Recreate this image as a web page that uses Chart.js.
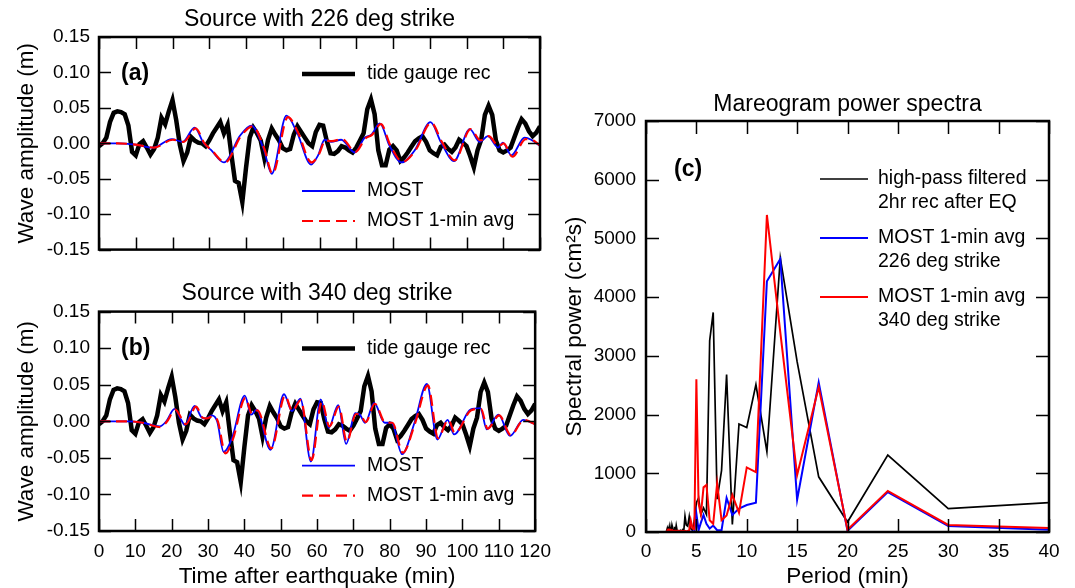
<!DOCTYPE html>
<html>
<head>
<meta charset="utf-8">
<script src="https://cdn.jsdelivr.net/npm/chart.js@4.4.1/dist/chart.umd.min.js"></script>
<style>
  html, body { margin: 0; padding: 0; background: #fff; }
  body { width: 1075px; height: 588px; position: relative; overflow: hidden; }
  canvas { position: absolute; }
</style>
</head>
<body>
<canvas id="panelA" width="560" height="270" style="left:0;top:0"></canvas>
<canvas id="panelB" width="560" height="318" style="left:0;top:270px"></canvas>
<canvas id="panelC" width="515" height="588" style="left:560px;top:0"></canvas>
<script>
// ---- Tide gauge record (m), 1-min samples after the earthquake ----
const tideMinutes = [0,1,2,3,4,5,6,7,8,9,10,11,12,13,14,15,16,17,18,19,20,21,22,23,24,25,26,27,28,29,30,
  31,32,33,34,35,36,37,38,39,40,41,42,43,44,45,46,47,48,49,50,51,52,53,54,55,56,57,58,59,60,
  61,62,63,64,65,66,67,68,69,70,71,72,73,74,75,76,77,78,79,80,81,82,83,84,85,86,87,88,89,90,
  91,92,93,94,95,96,97,98,99,100,101,102,103,104,105,106,107,108,109,110,111,112,113,114,115,116,117,118,119,120];
const tideGauge = [-0.004,0.000,0.008,0.030,0.043,0.045,0.044,0.041,0.025,-0.012,-0.017,-0.001,0.003,-0.006,-0.016,-0.008,0.008,0.036,0.027,0.045,0.061,
  0.033,-0.002,-0.025,-0.013,0.009,0.004,0.001,0.000,-0.004,0.004,0.014,0.022,0.030,0.014,0.026,-0.015,-0.053,-0.056,-0.083,-0.035,
  0.008,0.022,0.014,0.004,-0.021,0.005,0.021,0.012,0.004,-0.007,-0.010,-0.008,0.012,0.024,0.016,0.008,0.000,-0.004,0.016,0.026,
  0.025,0.003,-0.014,-0.015,-0.011,-0.004,-0.006,-0.010,-0.013,-0.006,0.004,0.014,0.048,0.062,0.041,-0.010,-0.031,-0.031,-0.009,-0.004,
  -0.010,-0.025,-0.020,-0.013,-0.005,0.003,0.007,0.010,0.002,-0.010,-0.014,-0.017,-0.005,-0.002,-0.008,-0.012,-0.006,0.005,0.001,-0.004,
  -0.018,-0.034,-0.010,0.005,0.040,0.053,0.040,0.004,-0.010,-0.013,-0.010,-0.006,0.008,0.022,0.034,0.028,0.017,0.010,0.015,0.024];

// ---- MOST model, 226 deg strike source (m) ----
const most226Min = [0,5,10,14.8,19.8,22.8,26.0,28.5,30.4,34.0,38.4,41.5,44.8,47.0,51.0,53.9,57.7,59.6,61.4,63.2,65.9,69.6,72.3,74.1,76.4,79.1,82.3,85.9,90.2,93.1,96.6,100.9,103.6,105.8,108.6,109.9,112.2,115.8,117.6,120];
const most226 = [0,0,-0.002,-0.006,0.006,0.002,0.022,0.000,-0.009,-0.027,0.011,0.025,-0.008,-0.043,0.039,0.015,-0.030,-0.017,0.005,0.002,0.005,-0.013,0.008,0.012,0.028,-0.004,-0.027,-0.010,0.030,0.001,-0.025,0.020,0.002,0.010,-0.006,0.001,-0.017,0.008,0.005,-0.004];
const most226AvgMin = [0,5,10,15.0,20.1,23.0,26.3,28.7,30.7,34.3,38.6,41.8,45.0,47.2,51.4,54.1,57.8,59.8,61.6,63.4,66.1,69.8,72.5,74.3,76.7,79.3,82.6,86.1,90.4,93.3,96.8,101.1,103.8,106.0,108.8,110.1,112.5,116.1,117.8,120];
const most226Avg = [0,0,-0.002,-0.006,0.005,0.002,0.021,0.000,-0.010,-0.027,0.010,0.024,-0.008,-0.043,0.037,0.016,-0.027,-0.016,0.004,0.003,0.006,-0.012,0.007,0.012,0.027,-0.003,-0.026,-0.010,0.029,0.002,-0.024,0.020,0.004,0.010,-0.004,0.000,-0.019,0.006,0.005,-0.003];

// ---- MOST model, 340 deg strike source (m) ----
const most340Min = [0,8,12,16.7,18.5,20.8,22.6,23.6,26.3,28.3,29.4,31.0,32.5,34.3,36.6,40.1,41.9,43.3,47.2,50.9,53.1,55.4,58.3,61.0,63.2,65.8,68.0,70.5,71.8,73.2,75.7,78.6,80.5,83.4,86.8,90.2,93.1,95.9,97.7,102.2,104.9,106.7,109.9,113.1,116.7,120];
const most340 = [0,0,-0.002,-0.007,0.000,0.017,0.002,-0.005,0.021,0.005,0.004,0.008,0.000,-0.042,-0.023,0.035,0.009,0.016,-0.039,0.037,0.014,0.031,-0.055,0.030,-0.009,0.022,-0.031,0.011,0.009,-0.002,0.025,-0.002,-0.002,-0.045,-0.002,0.051,-0.025,0.002,-0.018,0.016,0.018,-0.011,0.009,-0.020,0.002,-0.004];
const most340AvgMin = [0,8,12,16.9,18.6,21.0,22.8,23.9,26.7,28.5,29.6,31.4,32.7,34.8,36.8,40.3,42.1,43.6,47.4,51.2,53.2,55.5,58.5,61.3,63.4,66.0,68.2,70.7,72.0,73.4,75.9,78.8,80.7,83.6,87.0,90.5,93.3,96.1,97.9,102.4,105.1,106.9,110.1,113.3,116.9,120];
const most340Avg = [0,0,-0.002,-0.008,-0.001,0.016,0.003,-0.004,0.020,0.005,0.004,0.007,0.000,-0.044,-0.025,0.032,0.010,0.015,-0.037,0.035,0.014,0.029,-0.053,0.027,-0.007,0.020,-0.028,0.010,0.008,-0.001,0.024,-0.002,-0.002,-0.043,-0.002,0.049,-0.023,0.002,-0.016,0.015,0.017,-0.010,0.008,-0.019,0.002,-0.004];

// ---- Power spectra (cm^2 s) against period (min) ----
const periodMin = [2.00,2.03,2.07,2.11,2.14,2.18,2.22,2.26,2.31,2.35,2.40,2.45,2.50,2.55,2.61,2.67,2.73,2.79,2.86,2.93,
  3.00,3.08,3.16,3.24,3.33,3.43,3.53,3.64,3.75,3.87,4.00,4.14,4.29,4.44,4.62,4.80,5.00,5.22,5.45,5.71,
  6.00,6.32,6.67,7.06,7.50,8.00,8.57,9.23,10.00,10.91,12.00,13.33,15.00,17.14,20.00,24.00,30.00,40.00];
const powerRecord = [10,30,20,60,10,90,30,20,80,20,50,40,100,30,20,60,20,30,90,20,
  110,30,20,10,20,30,10,40,20,270,120,100,260,60,30,200,500,580,300,410,
  300,3260,3740,560,1050,2680,130,1840,1780,2510,1370,4670,2900,940,170,1310,400,500];
const power226 = [5,5,5,5,5,5,5,5,5,5,5,5,5,5,5,5,5,5,5,5,
  5,5,5,5,5,5,5,5,5,5,5,5,5,5,10,0,310,30,160,290,
  140,60,110,30,30,580,290,400,460,500,4270,4650,550,2550,20,680,100,40];
const power340 = [10,20,10,20,10,20,10,20,10,20,10,20,10,20,10,20,10,20,10,20,
  10,20,10,20,10,20,10,20,10,20,10,20,30,200,60,50,2600,480,300,760,
  800,200,140,830,200,280,630,330,1100,1020,5400,3400,970,2470,40,700,120,70];

// ---- shared styling ----
const FONT = "'Liberation Sans', Arial, Helvetica, sans-serif";
Chart.defaults.font.family = FONT;
Chart.defaults.color = '#000';

const pairs = (xs, ys) => xs.map((x, i) => ({ x: x, y: ys[i] }));
const ampLabel = v => (Math.abs(v) < 1e-9 ? '0.00' : v.toFixed(2));
const plainLabel = v => String(Math.round(v));

// Closed frame with inward tick marks on all four sides, placed from the scales.
const frameTicks = {
  id: 'frameTicks',
  afterDatasetsDraw(chart, args, opts) {
    const { ctx, chartArea: a, scales } = chart;
    const len = opts.length || 12;
    ctx.save();
    ctx.strokeStyle = '#000';
    ctx.lineWidth = opts.tickWidth || 1.5;
    ctx.beginPath();
    scales.x.ticks.forEach(t => {
      const px = Math.round(scales.x.getPixelForValue(t.value)) + 0.5;
      ctx.moveTo(px, a.bottom); ctx.lineTo(px, a.bottom - len);
      ctx.moveTo(px, a.top); ctx.lineTo(px, a.top + len);
    });
    scales.y.ticks.forEach(t => {
      const py = Math.round(scales.y.getPixelForValue(t.value)) + 0.5;
      ctx.moveTo(a.left, py); ctx.lineTo(a.left + len, py);
      ctx.moveTo(a.right, py); ctx.lineTo(a.right - len, py);
    });
    ctx.stroke();
    ctx.lineWidth = opts.borderWidth || 2.5;
    ctx.strokeRect(a.left, a.top, a.right - a.left, a.bottom - a.top);
    ctx.restore();
  }
};

// In-plot key: line samples styled from the datasets, plus the panel tag.
const keyItems = {
  id: 'keyItems',
  afterDraw(chart, args, opts) {
    const { ctx, chartArea: a } = chart;
    ctx.save();
    ctx.textBaseline = 'middle';
    ctx.textAlign = 'left';
    (opts.items || []).forEach(it => {
      const ds = chart.data.datasets[it.dataset];
      const y = a.top + it.dy;
      ctx.strokeStyle = ds.borderColor;
      ctx.lineWidth = ds.borderWidth;
      ctx.setLineDash(ds.borderDash || []);
      ctx.beginPath();
      ctx.moveTo(a.left + it.x0, y);
      ctx.lineTo(a.left + it.x1, y);
      ctx.stroke();
      ctx.setLineDash([]);
      ctx.fillStyle = '#000';
      ctx.font = opts.font;
      it.lines.forEach((s, i) => ctx.fillText(s, a.left + it.tx, y + i * (opts.lineGap || 24)));
    });
    if (opts.tag) {
      ctx.font = 'bold 23px ' + FONT;
      ctx.fillStyle = '#000';
      ctx.fillText(opts.tag.text, a.left + opts.tag.dx, a.top + opts.tag.dy);
    }
    ctx.restore();
  }
};

function wavePanel(canvasId, o) {
  return new Chart(document.getElementById(canvasId), {
    type: 'line',
    data: {
      datasets: [
        { label: 'tide gauge rec', data: pairs(tideMinutes, tideGauge), borderColor: '#000000', borderWidth: 4.5, tension: 0, order: 3 },
        { label: 'MOST', data: pairs(o.mostMin, o.most), borderColor: '#0000ff', borderWidth: 1.8, cubicInterpolationMode: 'monotone', order: 2 },
        { label: 'MOST 1-min avg', data: pairs(o.avgMin, o.avg), borderColor: '#ff0000', borderWidth: 2.2, borderDash: [11, 6], cubicInterpolationMode: 'monotone', order: 1 }
      ]
    },
    options: {
      responsive: false,
      animation: false,
      devicePixelRatio: 1,
      layout: { padding: { left: 0, right: 20, top: 0, bottom: 0 } },
      elements: { point: { radius: 0 } },
      plugins: {
        legend: { display: false },
        tooltip: { enabled: false },
        title: {
          display: true, text: o.title, fullSize: false, color: '#000',
          font: { size: 23, weight: 'normal', lineHeight: 1.2 },
          padding: o.titlePad
        },
        frameTicks: { length: 12, tickWidth: 1.5, borderWidth: 2.5 },
        keyItems: {
          font: '19.5px ' + FONT,
          items: [
            { dataset: 0, dy: 37, x0: 203, x1: 256, tx: 268, lines: ['tide gauge rec'] },
            { dataset: 1, dy: 154, x0: 203, x1: 256, tx: 268, lines: ['MOST'] },
            { dataset: 2, dy: 184, x0: 203, x1: 256, tx: 268, lines: ['MOST 1-min avg'] }
          ],
          tag: { text: o.tag, dx: 22, dy: 37 }
        }
      },
      scales: {
        x: {
          type: 'linear', min: 0, max: 120,
          grid: { display: false, drawTicks: false }, border: { display: false },
          ticks: { display: o.showX, stepSize: 10, autoSkip: false, maxRotation: 0, minRotation: 0, padding: 9, font: { size: 19 } },
          title: { display: o.showX, text: 'Time after earthquake (min)', font: { size: 22.5, lineHeight: 1 }, padding: { top: 0, bottom: 0 } },
          afterFit(s) { s.height = o.xHeight; }
        },
        y: {
          min: -0.15, max: 0.15,
          grid: { display: false, drawTicks: false }, border: { display: false },
          ticks: { stepSize: 0.05, padding: 9, font: { size: 19 }, callback: ampLabel },
          title: { display: true, text: 'Wave amplitude (m)', font: { size: 22.5, lineHeight: 1 }, padding: { top: 16, bottom: 0 } },
          afterFit(s) { s.width = 99; }
        }
      }
    },
    plugins: [frameTicks, keyItems]
  });
}

wavePanel('panelA', {
  title: 'Source with 226 deg strike', titlePad: { top: 6, bottom: 3.4 }, tag: '(a)',
  mostMin: most226Min, most: most226, avgMin: most226AvgMin, avg: most226Avg,
  showX: false, xHeight: 12.5
});

wavePanel('panelB', {
  title: 'Source with 340 deg strike', titlePad: { top: 10, bottom: 4 }, tag: '(b)',
  mostMin: most340Min, most: most340, avgMin: most340AvgMin, avg: most340Avg,
  showX: true, xHeight: 57
});

new Chart(document.getElementById('panelC'), {
  type: 'line',
  data: {
    datasets: [
      { label: 'high-pass filtered 2hr rec after EQ', data: pairs(periodMin, powerRecord), borderColor: '#000000', borderWidth: 1.7, order: 3 },
      { label: 'MOST 1-min avg 226 deg strike', data: pairs(periodMin, power226), borderColor: '#0000ff', borderWidth: 2, order: 2 },
      { label: 'MOST 1-min avg 340 deg strike', data: pairs(periodMin, power340), borderColor: '#ff0000', borderWidth: 2, order: 1 }
    ]
  },
  options: {
    responsive: false,
    animation: false,
    devicePixelRatio: 1,
    layout: { padding: { left: 0, right: 26, top: 0, bottom: 0 } },
    elements: { point: { radius: 0 }, line: { tension: 0 } },
    plugins: {
      legend: { display: false },
      tooltip: { enabled: false },
      title: {
        display: true, text: 'Mareogram power spectra', fullSize: false, color: '#000',
        font: { size: 23, weight: 'normal', lineHeight: 1.2 },
        padding: { top: 91, bottom: 2.4 }
      },
      frameTicks: { length: 13, tickWidth: 1.5, borderWidth: 2.5 },
      keyItems: {
        font: '19.5px ' + FONT,
        lineGap: 24,
        items: [
          { dataset: 0, dy: 58, x0: 174, x1: 222, tx: 232, lines: ['high-pass filtered', '2hr rec after EQ'] },
          { dataset: 1, dy: 117, x0: 174, x1: 222, tx: 232, lines: ['MOST 1-min avg', '226 deg strike'] },
          { dataset: 2, dy: 176, x0: 174, x1: 222, tx: 232, lines: ['MOST 1-min avg', '340 deg strike'] }
        ],
        tag: { text: '(c)', dx: 28, dy: 49 }
      }
    },
    scales: {
      x: {
        type: 'linear', min: 0, max: 40,
        grid: { display: false, drawTicks: false }, border: { display: false },
        ticks: { stepSize: 5, autoSkip: false, maxRotation: 0, minRotation: 0, padding: 8, font: { size: 19 }, callback: plainLabel },
        title: { display: true, text: 'Period (min)', font: { size: 22.5, lineHeight: 1 }, padding: { top: 0, bottom: 0 } },
        afterFit(s) { s.height = 56; }
      },
      y: {
        min: 0, max: 7000,
        grid: { display: false, drawTicks: false }, border: { display: false },
        ticks: { stepSize: 1000, padding: 10, font: { size: 19 }, callback: plainLabel },
        title: { display: true, text: 'Spectral power (cm\u00B2s)', font: { size: 22.5, lineHeight: 1 }, padding: { top: 4, bottom: 0 } },
        afterFit(s) { s.width = 86; }
      }
    }
  },
  plugins: [frameTicks, keyItems]
});
</script>
</body>
</html>
